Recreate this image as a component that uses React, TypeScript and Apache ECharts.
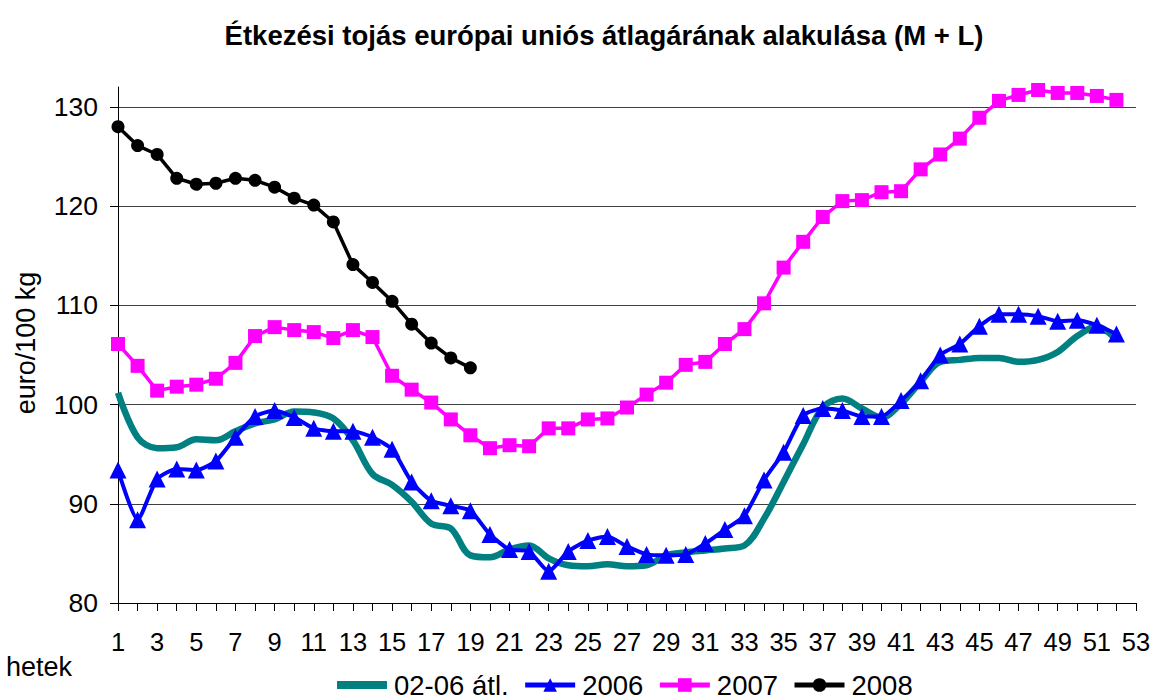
import React, { useEffect, useRef } from "react";
import * as echarts from "echarts";

const weeks: string[] = Array.from({ length: 53 }, (_, i) => String(i + 1));

const avg0206: number[] = [
  101.2, 96.7, 95.6, 95.7, 96.5, 96.4, 97.3, 98.1, 98.5, 99.3,
  99.2, 98.6, 96.4, 93.0, 91.9, 90.2, 88.0, 87.5, 84.8, 84.6,
  85.4, 85.8, 84.5, 83.8, 83.7, 83.9, 83.7, 83.8, 84.8, 85.1,
  85.3, 85.5, 85.8, 88.5, 92.2, 96.0, 99.7, 100.6, 99.6, 98.7,
  100.1, 102.3, 104.3, 104.5, 104.7, 104.7, 104.3, 104.5, 105.3, 106.9,
  107.9, 106.5,
];

const y2006: number[] = [
  93.4, 88.4, 92.5, 93.5, 93.4, 94.3, 96.7, 98.8, 99.4, 98.7,
  97.6, 97.3, 97.3, 96.7, 95.5, 92.2, 90.3, 89.8, 89.3, 86.9,
  85.4, 85.2, 83.2, 85.2, 86.3, 86.7, 85.7, 84.9, 84.8, 84.9,
  86.0, 87.4, 88.8, 92.4, 95.2, 98.9, 99.6, 99.4, 98.8, 98.8,
  100.4, 102.4, 105.0, 106.1, 107.9, 109.1, 109.1, 108.9, 108.4, 108.5,
  108.0, 107.1,
];

const y2007: number[] = [
  106.1, 103.9, 101.4, 101.8, 102.0, 102.6, 104.2, 106.9, 107.8, 107.5,
  107.3, 106.7, 107.5, 106.8, 102.9, 101.5, 100.2, 98.5, 96.9, 95.6,
  95.9, 95.8, 97.6, 97.6, 98.5, 98.6, 99.7, 101.0, 102.2, 104.0,
  104.3, 106.1, 107.6, 110.2, 113.8, 116.4, 118.9, 120.5, 120.6, 121.4,
  121.5, 123.7, 125.2, 126.8, 128.9, 130.6, 131.2, 131.7, 131.4, 131.4,
  131.1, 130.7,
];

const y2008: number[] = [
  128.0, 126.1, 125.2, 122.8, 122.2, 122.3, 122.8, 122.6, 121.9, 120.8,
  120.1, 118.4, 114.1, 112.3, 110.4, 108.1, 106.2, 104.7, 103.7,
];

const seriesNames: string[] = ["02-06 átl.", "2006", "2007", "2008"];

const FONT = "'Liberation Sans', Arial, sans-serif";

export default function App() {
  const ref = useRef<HTMLDivElement>(null);
  useEffect(() => {
    if (!ref.current) return;
    const chart = echarts.init(ref.current, undefined, { renderer: "svg" });
    chart.setOption({
      animation: false,
      backgroundColor: "#ffffff",
      textStyle: { fontFamily: FONT },
      title: {
        text: "Étkezési tojás európai uniós átlagárának alakulása (M + L)",
        left: 599,
        textAlign: "center",
        top: 16,
        textStyle: { fontFamily: FONT, fontSize: 27.5, fontWeight: "bold", color: "#000" },
      },
      grid: { left: 118, right: 19, top: 87, bottom: 97, containLabel: false },
      legend: {
        top: 671,
        left: 333,
        padding: 0,
        itemGap: 14,
        itemWidth: 50,
        itemHeight: 17,
        textStyle: {
          fontFamily: FONT,
          fontSize: 27.5,
          lineHeight: 28,
          color: "#000",
          padding: [0, 0, 0, 2],
        },
        data: [
          {
            name: seriesNames[0],
            itemStyle: { opacity: 0 },
            lineStyle: { width: 8, color: "#008080" },
          },
          { name: seriesNames[1], lineStyle: { width: 5 } },
          { name: seriesNames[2], lineStyle: { width: 5 } },
          { name: seriesNames[3], lineStyle: { width: 5 } },
        ],
      },
      xAxis: {
        type: "category",
        data: weeks,
        boundaryGap: false,
        axisLine: { lineStyle: { color: "#000", width: 1 } },
        axisTick: { interval: 0, length: 8, lineStyle: { color: "#000" } },
        axisLabel: { interval: 1, margin: 26, fontSize: 25.5, color: "#000", fontFamily: FONT },
        splitLine: { show: false },
      },
      yAxis: {
        type: "value",
        min: 80,
        max: 132,
        interval: 10,
        axisLine: { show: true, lineStyle: { color: "#000", width: 1 } },
        axisTick: { show: true, length: 8, lineStyle: { color: "#000" } },
        axisLabel: { margin: 20, fontSize: 26.5, color: "#000", fontFamily: FONT, showMaxLabel: false },
        splitLine: { show: true, showMaxLine: false, lineStyle: { color: "#404040", width: 1 } },
      },
      graphic: [
        {
          type: "text",
          left: 6,
          top: 653,
          style: { text: "hetek", fontFamily: FONT, fontSize: 27, fill: "#000" },
        },
        {
          type: "text",
          x: 12,
          y: 343,
          rotation: Math.PI / 2,
          style: {
            text: "euro/100 kg",
            fontFamily: FONT,
            fontSize: 27,
            fill: "#000",
            align: "center",
            verticalAlign: "top",
          },
        },
      ],
      series: [
        {
          name: seriesNames[0],
          type: "line",
          data: avg0206,
          smooth: 0.35,
          showSymbol: false,
          symbol: "none",
          lineStyle: { color: "#008080", width: 6.5 },
          itemStyle: { color: "#008080" },
          z: 1,
        },
        {
          name: seriesNames[1],
          type: "line",
          data: y2006,
          smooth: 0.2,
          symbol: "triangle",
          showAllSymbol: true,
          symbolSize: 17,
          lineStyle: { color: "#0000FF", width: 4 },
          itemStyle: { color: "#0000FF" },
          z: 2,
        },
        {
          name: seriesNames[2],
          type: "line",
          data: y2007,
          symbol: "rect",
          showAllSymbol: true,
          symbolSize: 14,
          lineStyle: { color: "#FF00FF", width: 3.5 },
          itemStyle: { color: "#FF00FF" },
          z: 3,
        },
        {
          name: seriesNames[3],
          type: "line",
          data: y2008,
          symbol: "circle",
          showAllSymbol: true,
          symbolSize: 13,
          lineStyle: { color: "#000000", width: 3.5 },
          itemStyle: { color: "#000000" },
          z: 4,
        },
      ],
    });
    return () => chart.dispose();
  }, []);
  return (
    <div
      ref={ref}
      style={{ position: "fixed", left: 0, top: 0, width: 1155, height: 700 }}
    />
  );
}
